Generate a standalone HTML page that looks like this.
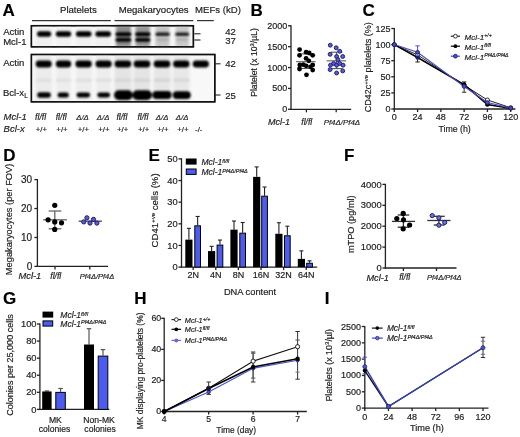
<!DOCTYPE html><html><head><meta charset="utf-8"><style>html,body{margin:0;padding:0;background:#fff;}svg{display:block;will-change:transform;}</style></head><body>
<svg width="520" height="437" viewBox="0 0 520 437" font-family='"Liberation Sans", sans-serif'><style>text{stroke:#1c1c1c;stroke-width:0.18px;paint-order:stroke;}</style>
<defs><filter id="bl" x="-30%" y="-60%" width="160%" height="220%"><feGaussianBlur stdDeviation="0.95"/></filter><filter id="bl2" x="-30%" y="-60%" width="160%" height="220%"><feGaussianBlur stdDeviation="1.6"/></filter></defs>
<rect width="520" height="437" fill="#fff"/>
<text x="2.60" y="16.20" font-size="17" text-anchor="start" fill="#000" font-weight="bold" >A</text>
<text x="60.00" y="12.70" font-size="9.6" text-anchor="start" fill="#1c1c1c" >Platelets</text>
<text x="118.70" y="12.70" font-size="9.6" text-anchor="start" fill="#1c1c1c" >Megakaryocytes</text>
<text x="195.00" y="12.70" font-size="9.6" text-anchor="start" fill="#1c1c1c" >MEFs (kD)</text>
<line x1="32.00" y1="20.60" x2="110.80" y2="20.60" stroke="#333" stroke-width="1.2"/>
<line x1="114.50" y1="20.60" x2="193.30" y2="20.60" stroke="#333" stroke-width="1.2"/>
<line x1="197.00" y1="20.60" x2="213.80" y2="20.60" stroke="#333" stroke-width="1.2"/>
<rect x="31.4" y="25.7" width="162" height="21.1" fill="#f8f8f8" stroke="#111" stroke-width="1.3"/>
<rect x="31.4" y="54.5" width="183.4" height="47.3" fill="#f8f8f8" stroke="#111" stroke-width="1.3"/>
<g filter="url(#bl2)">
<rect x="36" y="25.5" width="16" height="21.5" fill="#f0f0f0"/>
<rect x="56" y="25.5" width="15" height="21.5" fill="#f1f1f1"/>
<rect x="76" y="25.5" width="16" height="21.5" fill="#f1f1f1"/>
<rect x="95" y="25.5" width="16" height="21.5" fill="#f1f1f1"/>
<rect x="116" y="25.5" width="15" height="21.5" fill="#8a8a8a"/>
<rect x="135.5" y="25.5" width="14.5" height="21.5" fill="#959595"/>
<rect x="155.5" y="25.5" width="14.0" height="21.5" fill="#c4c4c4"/>
<rect x="175.5" y="25.5" width="13.5" height="21.5" fill="#c8c8c8"/>
<rect x="35.5" y="54.5" width="16.5" height="47" fill="#ececec"/>
<rect x="56" y="54.5" width="15" height="47" fill="#ededed"/>
<rect x="76" y="54.5" width="16" height="47" fill="#ededed"/>
<rect x="96" y="54.5" width="15" height="47" fill="#ededed"/>
<rect x="114.5" y="54.5" width="17.0" height="47" fill="#e4e4e4"/>
<rect x="133.6" y="54.5" width="16.700000000000017" height="47" fill="#e4e4e4"/>
<rect x="153.8" y="54.5" width="16.69999999999999" height="47" fill="#e6e6e6"/>
<rect x="173" y="54.5" width="16.5" height="47" fill="#e8e8e8"/>
</g>
<g filter="url(#bl)">
<rect x="37.00" y="31.30" width="14.20" height="5.40" rx="2.70" fill="#000" opacity="1"/>
<rect x="55.80" y="31.30" width="15.40" height="5.40" rx="2.70" fill="#000" opacity="1"/>
<rect x="75.90" y="31.30" width="15.60" height="5.40" rx="2.70" fill="#000" opacity="1"/>
<rect x="95.40" y="31.30" width="15.60" height="5.40" rx="2.70" fill="#000" opacity="1"/>
<rect x="115.55" y="32.20" width="15.70" height="4.00" rx="2.00" fill="#000" opacity="1"/>
<rect x="115.55" y="37.90" width="15.70" height="3.80" rx="1.90" fill="#000" opacity="1"/>
<rect x="135.25" y="32.20" width="15.10" height="4.00" rx="2.00" fill="#000" opacity="1"/>
<rect x="135.25" y="37.90" width="15.10" height="3.80" rx="1.90" fill="#000" opacity="1"/>
<rect x="155.50" y="32.40" width="14.20" height="3.60" rx="1.80" fill="#1a1a1a" opacity="1"/>
<rect x="156.50" y="38.50" width="12.20" height="2.20" rx="1.10" fill="#aaaaaa" opacity="1"/>
<rect x="175.30" y="32.40" width="13.80" height="3.60" rx="1.80" fill="#202020" opacity="1"/>
<rect x="176.30" y="38.50" width="11.80" height="2.20" rx="1.10" fill="#aaaaaa" opacity="1"/>
<rect x="35.70" y="60.60" width="16.00" height="6.80" rx="3.40" fill="#000" opacity="1"/>
<rect x="55.80" y="60.60" width="15.40" height="6.80" rx="3.40" fill="#000" opacity="1"/>
<rect x="75.40" y="60.60" width="16.40" height="6.80" rx="3.40" fill="#000" opacity="1"/>
<rect x="95.50" y="60.60" width="16.20" height="6.80" rx="3.40" fill="#000" opacity="1"/>
<rect x="114.60" y="60.60" width="16.60" height="6.80" rx="3.40" fill="#000" opacity="1"/>
<rect x="133.70" y="60.60" width="16.60" height="6.80" rx="3.40" fill="#000" opacity="1"/>
<rect x="153.70" y="60.60" width="16.60" height="6.80" rx="3.40" fill="#000" opacity="1"/>
<rect x="173.10" y="60.60" width="16.40" height="6.80" rx="3.40" fill="#000" opacity="1"/>
<rect x="192.70" y="60.60" width="16.20" height="6.80" rx="3.40" fill="#000" opacity="1"/>
<rect x="35.70" y="78.50" width="16.00" height="3.40" rx="1.70" fill="#e0e0e0" opacity="1"/>
<rect x="55.80" y="78.50" width="15.40" height="3.40" rx="1.70" fill="#e0e0e0" opacity="1"/>
<rect x="75.40" y="78.50" width="16.40" height="3.40" rx="1.70" fill="#e0e0e0" opacity="1"/>
<rect x="95.50" y="78.50" width="16.20" height="3.40" rx="1.70" fill="#e0e0e0" opacity="1"/>
<rect x="114.60" y="78.50" width="16.60" height="3.40" rx="1.70" fill="#d8d8d8" opacity="1"/>
<rect x="133.70" y="78.50" width="16.60" height="3.40" rx="1.70" fill="#d6d6d6" opacity="1"/>
<rect x="153.70" y="78.50" width="16.60" height="3.40" rx="1.70" fill="#d6d6d6" opacity="1"/>
<rect x="173.10" y="78.50" width="16.40" height="3.40" rx="1.70" fill="#d8d8d8" opacity="1"/>
<rect x="37.20" y="92.20" width="13.60" height="5.60" rx="2.80" fill="#000" opacity="1"/>
<rect x="57.60" y="92.50" width="11.20" height="5.00" rx="2.50" fill="#000" opacity="1"/>
<rect x="76.50" y="92.60" width="13.60" height="4.80" rx="2.40" fill="#000" opacity="1"/>
<rect x="97.30" y="92.60" width="12.80" height="4.80" rx="2.40" fill="#000" opacity="1"/>
<rect x="114.00" y="90.30" width="18.80" height="9.60" rx="4.80" fill="#000" opacity="1"/>
<rect x="132.40" y="90.20" width="19.60" height="9.80" rx="4.90" fill="#000" opacity="1"/>
<rect x="152.40" y="91.10" width="19.20" height="8.00" rx="4.00" fill="#000" opacity="1"/>
<rect x="172.80" y="91.20" width="18.00" height="7.80" rx="3.90" fill="#000" opacity="1"/>
</g>
<rect x="31.4" y="25.7" width="162" height="21.1" fill="none" stroke="#111" stroke-width="1.5"/>
<rect x="31.4" y="54.5" width="183.4" height="47.3" fill="none" stroke="#111" stroke-width="1.5"/>
<line x1="194.30" y1="33.80" x2="200.50" y2="33.80" stroke="#222" stroke-width="1.1"/>
<line x1="194.30" y1="40.00" x2="200.50" y2="40.00" stroke="#222" stroke-width="1.1"/>
<line x1="215.00" y1="63.80" x2="220.50" y2="63.80" stroke="#222" stroke-width="1.1"/>
<line x1="215.00" y1="95.00" x2="220.50" y2="95.00" stroke="#222" stroke-width="1.1"/>
<text x="225.30" y="35.00" font-size="9.5" text-anchor="start" fill="#1c1c1c" >42</text>
<text x="225.30" y="43.90" font-size="9.5" text-anchor="start" fill="#1c1c1c" >37</text>
<text x="225.30" y="67.30" font-size="9.5" text-anchor="start" fill="#1c1c1c" >42</text>
<text x="225.30" y="98.60" font-size="9.5" text-anchor="start" fill="#1c1c1c" >25</text>
<text x="3.20" y="34.90" font-size="9.5" text-anchor="start" fill="#1c1c1c" >Actin</text>
<text x="3.20" y="44.90" font-size="9.5" text-anchor="start" fill="#1c1c1c" >Mcl-1</text>
<text x="3.20" y="66.30" font-size="9.5" text-anchor="start" fill="#1c1c1c" >Actin</text>
<text x="3.00" y="96.20" font-size="9.5" text-anchor="start" fill="#1c1c1c" >Bcl-x<tspan font-size="6.5" dy="2">L</tspan></text>
<text x="3.60" y="120.20" font-size="9.5" text-anchor="start" fill="#1c1c1c" font-style="italic" >Mcl-1</text>
<text x="3.60" y="132.20" font-size="9.5" text-anchor="start" fill="#1c1c1c" font-style="italic" >Bcl-x</text>
<text x="40.60" y="120.20" font-size="8.6" text-anchor="middle" fill="#1c1c1c" font-style="italic" >fl/fl</text>
<text x="61.20" y="120.20" font-size="8.6" text-anchor="middle" fill="#1c1c1c" font-style="italic" >fl/fl</text>
<text x="82.50" y="120.20" font-size="7.8" text-anchor="middle" fill="#1c1c1c" font-style="italic" >Δ/Δ</text>
<text x="103.10" y="120.20" font-size="7.8" text-anchor="middle" fill="#1c1c1c" font-style="italic" >Δ/Δ</text>
<text x="121.90" y="120.20" font-size="8.6" text-anchor="middle" fill="#1c1c1c" font-style="italic" >fl/fl</text>
<text x="142.90" y="120.20" font-size="8.6" text-anchor="middle" fill="#1c1c1c" font-style="italic" >fl/fl</text>
<text x="162.10" y="120.20" font-size="7.8" text-anchor="middle" fill="#1c1c1c" font-style="italic" >Δ/Δ</text>
<text x="182.10" y="120.20" font-size="7.8" text-anchor="middle" fill="#1c1c1c" font-style="italic" >Δ/Δ</text>
<text x="41.40" y="131.90" font-size="7.8" text-anchor="middle" fill="#1c1c1c" >+/+</text>
<text x="62.00" y="131.90" font-size="7.8" text-anchor="middle" fill="#1c1c1c" >+/+</text>
<text x="83.30" y="131.90" font-size="7.8" text-anchor="middle" fill="#1c1c1c" >+/+</text>
<text x="103.90" y="131.90" font-size="7.8" text-anchor="middle" fill="#1c1c1c" >+/+</text>
<text x="122.70" y="131.90" font-size="7.8" text-anchor="middle" fill="#1c1c1c" >+/+</text>
<text x="143.70" y="131.90" font-size="7.8" text-anchor="middle" fill="#1c1c1c" >+/+</text>
<text x="162.90" y="131.90" font-size="7.8" text-anchor="middle" fill="#1c1c1c" >+/+</text>
<text x="182.90" y="131.90" font-size="7.8" text-anchor="middle" fill="#1c1c1c" >+/+</text>
<text x="198.80" y="131.60" font-size="7.8" text-anchor="middle" fill="#1c1c1c" >-/-</text>
<text x="250.50" y="16.20" font-size="17" text-anchor="start" fill="#000" font-weight="bold" >B</text>
<line x1="291.00" y1="25.20" x2="291.00" y2="109.90" stroke="#222" stroke-width="1.3"/>
<line x1="288.00" y1="109.30" x2="291.00" y2="109.30" stroke="#222" stroke-width="1.3"/>
<text x="287.20" y="112.30" font-size="9" text-anchor="end" fill="#1c1c1c" >0</text>
<line x1="288.00" y1="88.42" x2="291.00" y2="88.42" stroke="#222" stroke-width="1.3"/>
<text x="287.20" y="91.42" font-size="9" text-anchor="end" fill="#1c1c1c" >500</text>
<line x1="288.00" y1="67.55" x2="291.00" y2="67.55" stroke="#222" stroke-width="1.3"/>
<text x="287.20" y="70.55" font-size="9" text-anchor="end" fill="#1c1c1c" >1000</text>
<line x1="288.00" y1="46.67" x2="291.00" y2="46.67" stroke="#222" stroke-width="1.3"/>
<text x="287.20" y="49.67" font-size="9" text-anchor="end" fill="#1c1c1c" >1500</text>
<line x1="288.00" y1="25.80" x2="291.00" y2="25.80" stroke="#222" stroke-width="1.3"/>
<text x="287.20" y="28.80" font-size="9" text-anchor="end" fill="#1c1c1c" >2000</text>
<line x1="290.40" y1="109.30" x2="351.20" y2="109.30" stroke="#222" stroke-width="1.3"/>
<line x1="306.40" y1="109.30" x2="306.40" y2="112.30" stroke="#222" stroke-width="1.3"/>
<line x1="336.20" y1="109.30" x2="336.20" y2="112.30" stroke="#222" stroke-width="1.3"/>
<text transform="translate(256.80,62.50) rotate(-90)" x="0" y="0" font-size="8.65" text-anchor="middle" fill="#1c1c1c">Platelet (x 10<tspan font-size="5.8" dy="-3">3</tspan><tspan dy="3">/µL)</tspan></text>
<text x="268.00" y="125.30" font-size="9" text-anchor="start" fill="#1c1c1c" font-style="italic" >Mcl-1</text>
<text x="306.80" y="125.10" font-size="8.6" text-anchor="middle" fill="#1c1c1c" font-style="italic" >fl/fl</text>
<text x="341.90" y="125.10" font-size="7.9" text-anchor="middle" fill="#1c1c1c" font-style="italic" >Pf4Δ/Pf4Δ</text>
<line x1="296.00" y1="61.60" x2="315.60" y2="61.60" stroke="#777" stroke-width="1.3"/>
<line x1="299.50" y1="53.90" x2="312.50" y2="53.90" stroke="#555" stroke-width="1.1"/>
<line x1="299.50" y1="68.40" x2="312.50" y2="68.40" stroke="#555" stroke-width="1.1"/>
<circle cx="299.60" cy="49.60" r="2.4" fill="#000" stroke="none" stroke-width="0.8"/>
<circle cx="306.10" cy="52.20" r="2.4" fill="#000" stroke="none" stroke-width="0.8"/>
<circle cx="309.20" cy="53.00" r="2.4" fill="#000" stroke="none" stroke-width="0.8"/>
<circle cx="312.70" cy="55.30" r="2.4" fill="#000" stroke="none" stroke-width="0.8"/>
<circle cx="299.50" cy="55.30" r="2.4" fill="#000" stroke="none" stroke-width="0.8"/>
<circle cx="306.10" cy="58.40" r="2.4" fill="#000" stroke="none" stroke-width="0.8"/>
<circle cx="308.80" cy="60.80" r="2.4" fill="#000" stroke="none" stroke-width="0.8"/>
<circle cx="299.80" cy="65.00" r="2.4" fill="#000" stroke="none" stroke-width="0.8"/>
<circle cx="303.40" cy="64.70" r="2.4" fill="#000" stroke="none" stroke-width="0.8"/>
<circle cx="306.10" cy="65.80" r="2.4" fill="#000" stroke="none" stroke-width="0.8"/>
<circle cx="312.70" cy="65.00" r="2.4" fill="#000" stroke="none" stroke-width="0.8"/>
<circle cx="299.50" cy="69.00" r="2.4" fill="#000" stroke="none" stroke-width="0.8"/>
<circle cx="312.70" cy="70.10" r="2.4" fill="#000" stroke="none" stroke-width="0.8"/>
<circle cx="306.50" cy="74.80" r="2.4" fill="#000" stroke="none" stroke-width="0.8"/>
<circle cx="310.50" cy="66.80" r="2.4" fill="#000" stroke="none" stroke-width="0.8"/>
<line x1="330.60" y1="52.20" x2="342.40" y2="52.20" stroke="#555" stroke-width="1.1"/>
<line x1="330.60" y1="68.60" x2="342.40" y2="68.60" stroke="#555" stroke-width="1.1"/>
<line x1="336.50" y1="52.20" x2="336.50" y2="68.60" stroke="#555" stroke-width="1.1"/>
<line x1="326.60" y1="60.80" x2="346.20" y2="60.80" stroke="#777" stroke-width="1.3"/>
<circle cx="330.30" cy="45.20" r="1.95" fill="#5c5cd4" stroke="#1c1c6a" stroke-width="0.95"/>
<circle cx="336.20" cy="47.80" r="1.95" fill="#5c5cd4" stroke="#1c1c6a" stroke-width="0.95"/>
<circle cx="339.70" cy="51.30" r="1.95" fill="#5c5cd4" stroke="#1c1c6a" stroke-width="0.95"/>
<circle cx="330.10" cy="54.30" r="1.95" fill="#5c5cd4" stroke="#1c1c6a" stroke-width="0.95"/>
<circle cx="336.60" cy="56.50" r="1.95" fill="#5c5cd4" stroke="#1c1c6a" stroke-width="0.95"/>
<circle cx="342.70" cy="56.50" r="1.95" fill="#5c5cd4" stroke="#1c1c6a" stroke-width="0.95"/>
<circle cx="337.90" cy="59.60" r="1.95" fill="#5c5cd4" stroke="#1c1c6a" stroke-width="0.95"/>
<circle cx="330.50" cy="65.20" r="1.95" fill="#5c5cd4" stroke="#1c1c6a" stroke-width="0.95"/>
<circle cx="333.60" cy="63.50" r="1.95" fill="#5c5cd4" stroke="#1c1c6a" stroke-width="0.95"/>
<circle cx="336.60" cy="65.20" r="1.95" fill="#5c5cd4" stroke="#1c1c6a" stroke-width="0.95"/>
<circle cx="339.70" cy="63.50" r="1.95" fill="#5c5cd4" stroke="#1c1c6a" stroke-width="0.95"/>
<circle cx="343.10" cy="65.20" r="1.95" fill="#5c5cd4" stroke="#1c1c6a" stroke-width="0.95"/>
<circle cx="330.10" cy="69.60" r="1.95" fill="#5c5cd4" stroke="#1c1c6a" stroke-width="0.95"/>
<circle cx="342.70" cy="70.90" r="1.95" fill="#5c5cd4" stroke="#1c1c6a" stroke-width="0.95"/>
<circle cx="336.60" cy="73.00" r="1.95" fill="#5c5cd4" stroke="#1c1c6a" stroke-width="0.95"/>
<text x="362.50" y="15.60" font-size="17" text-anchor="start" fill="#000" font-weight="bold" >C</text>
<line x1="394.30" y1="27.90" x2="394.30" y2="109.60" stroke="#222" stroke-width="1.3"/>
<line x1="391.30" y1="109.00" x2="394.30" y2="109.00" stroke="#222" stroke-width="1.3"/>
<text x="390.50" y="112.00" font-size="9" text-anchor="end" fill="#1c1c1c" >0</text>
<line x1="391.30" y1="92.90" x2="394.30" y2="92.90" stroke="#222" stroke-width="1.3"/>
<text x="390.50" y="95.90" font-size="9" text-anchor="end" fill="#1c1c1c" >25</text>
<line x1="391.30" y1="76.80" x2="394.30" y2="76.80" stroke="#222" stroke-width="1.3"/>
<text x="390.50" y="79.80" font-size="9" text-anchor="end" fill="#1c1c1c" >50</text>
<line x1="391.30" y1="60.70" x2="394.30" y2="60.70" stroke="#222" stroke-width="1.3"/>
<text x="390.50" y="63.70" font-size="9" text-anchor="end" fill="#1c1c1c" >75</text>
<line x1="391.30" y1="44.60" x2="394.30" y2="44.60" stroke="#222" stroke-width="1.3"/>
<text x="390.50" y="47.60" font-size="9" text-anchor="end" fill="#1c1c1c" >100</text>
<line x1="391.30" y1="28.50" x2="394.30" y2="28.50" stroke="#222" stroke-width="1.3"/>
<text x="390.50" y="31.50" font-size="9" text-anchor="end" fill="#1c1c1c" >125</text>
<line x1="393.70" y1="109.00" x2="515.40" y2="109.00" stroke="#222" stroke-width="1.3"/>
<line x1="394.30" y1="109.00" x2="394.30" y2="112.00" stroke="#222" stroke-width="1.3"/>
<line x1="417.58" y1="109.00" x2="417.58" y2="112.00" stroke="#222" stroke-width="1.3"/>
<line x1="440.86" y1="109.00" x2="440.86" y2="112.00" stroke="#222" stroke-width="1.3"/>
<line x1="464.14" y1="109.00" x2="464.14" y2="112.00" stroke="#222" stroke-width="1.3"/>
<line x1="487.42" y1="109.00" x2="487.42" y2="112.00" stroke="#222" stroke-width="1.3"/>
<line x1="510.70" y1="109.00" x2="510.70" y2="112.00" stroke="#222" stroke-width="1.3"/>
<text x="394.30" y="120.00" font-size="9" text-anchor="middle" fill="#1c1c1c" >0</text>
<text x="417.58" y="120.00" font-size="9" text-anchor="middle" fill="#1c1c1c" >24</text>
<text x="440.86" y="120.00" font-size="9" text-anchor="middle" fill="#1c1c1c" >48</text>
<text x="464.14" y="120.00" font-size="9" text-anchor="middle" fill="#1c1c1c" >72</text>
<text x="487.42" y="120.00" font-size="9" text-anchor="middle" fill="#1c1c1c" >96</text>
<text x="510.70" y="120.00" font-size="9" text-anchor="middle" fill="#1c1c1c" >120</text>
<text x="454.60" y="131.80" font-size="8.8" text-anchor="middle" fill="#1c1c1c" >Time (h)</text>
<text transform="translate(371.30,67.30) rotate(-90)" x="0" y="0" font-size="9" text-anchor="middle" fill="#1c1c1c">CD42c<tspan font-size="6" dy="-3">+ve</tspan><tspan dy="3"> platelets (%)</tspan></text>
<line x1="417.58" y1="45.89" x2="417.58" y2="52.33" stroke="#4a55c8" stroke-width="1.0"/>
<line x1="415.38" y1="45.89" x2="419.78" y2="45.89" stroke="#4a55c8" stroke-width="1.0"/>
<line x1="415.38" y1="52.33" x2="419.78" y2="52.33" stroke="#4a55c8" stroke-width="1.0"/>
<line x1="417.58" y1="57.48" x2="417.58" y2="61.99" stroke="#222" stroke-width="1.0"/>
<line x1="415.38" y1="57.48" x2="419.78" y2="57.48" stroke="#222" stroke-width="1.0"/>
<line x1="415.38" y1="61.99" x2="419.78" y2="61.99" stroke="#222" stroke-width="1.0"/>
<line x1="464.14" y1="81.95" x2="464.14" y2="85.82" stroke="#222" stroke-width="1.0"/>
<line x1="461.94" y1="81.95" x2="466.34" y2="81.95" stroke="#222" stroke-width="1.0"/>
<line x1="461.94" y1="85.82" x2="466.34" y2="85.82" stroke="#222" stroke-width="1.0"/>
<line x1="464.14" y1="86.46" x2="464.14" y2="92.26" stroke="#333" stroke-width="1.0"/>
<line x1="461.94" y1="86.46" x2="466.34" y2="86.46" stroke="#333" stroke-width="1.0"/>
<line x1="461.94" y1="92.26" x2="466.34" y2="92.26" stroke="#333" stroke-width="1.0"/>
<line x1="487.42" y1="99.98" x2="487.42" y2="105.14" stroke="#333" stroke-width="1.0"/>
<line x1="485.22" y1="99.98" x2="489.62" y2="99.98" stroke="#333" stroke-width="1.0"/>
<line x1="485.22" y1="105.14" x2="489.62" y2="105.14" stroke="#333" stroke-width="1.0"/>
<polyline points="394.30,44.60 417.58,54.90 464.14,85.17 487.42,99.98 510.70,107.71" fill="none" stroke="#222" stroke-width="1.0"/>
<polyline points="394.30,44.60 417.58,57.48 464.14,84.53 487.42,104.49 510.70,108.36" fill="none" stroke="#000" stroke-width="1.6"/>
<polyline points="394.30,44.60 417.58,52.33 464.14,86.46 487.42,102.56 510.70,108.03" fill="none" stroke="#4a4ccc" stroke-width="1.1"/>
<circle cx="394.30" cy="44.60" r="2.0" fill="#fff" stroke="#222" stroke-width="0.9"/>
<circle cx="417.58" cy="54.90" r="2.0" fill="#fff" stroke="#222" stroke-width="0.9"/>
<circle cx="464.14" cy="85.17" r="2.0" fill="#fff" stroke="#222" stroke-width="0.9"/>
<circle cx="487.42" cy="99.98" r="2.0" fill="#fff" stroke="#222" stroke-width="0.9"/>
<circle cx="510.70" cy="107.71" r="2.0" fill="#fff" stroke="#222" stroke-width="0.9"/>
<circle cx="394.30" cy="44.60" r="2.2" fill="#000" stroke="none" stroke-width="0.8"/>
<circle cx="417.58" cy="57.48" r="2.2" fill="#1e1e72" stroke="none" stroke-width="0.8"/>
<circle cx="464.14" cy="84.53" r="2.2" fill="#000" stroke="none" stroke-width="0.8"/>
<circle cx="487.42" cy="104.49" r="2.2" fill="#000" stroke="none" stroke-width="0.8"/>
<circle cx="510.70" cy="108.36" r="2.2" fill="#000" stroke="none" stroke-width="0.8"/>
<circle cx="394.30" cy="44.60" r="1.9" fill="#4c4cc8" stroke="#20207a" stroke-width="0.9"/>
<circle cx="417.58" cy="52.33" r="1.9" fill="#4c4cc8" stroke="#20207a" stroke-width="0.9"/>
<circle cx="464.14" cy="86.46" r="1.9" fill="#4c4cc8" stroke="#20207a" stroke-width="0.9"/>
<circle cx="487.42" cy="102.56" r="1.9" fill="#4c4cc8" stroke="#20207a" stroke-width="0.9"/>
<circle cx="510.70" cy="108.03" r="1.9" fill="#4c4cc8" stroke="#20207a" stroke-width="0.9"/>
<line x1="450.80" y1="36.20" x2="460.00" y2="36.20" stroke="#222" stroke-width="1.2"/>
<circle cx="455.40" cy="36.20" r="1.9" fill="#fff" stroke="#222" stroke-width="0.9"/>
<line x1="450.80" y1="46.20" x2="460.00" y2="46.20" stroke="#000" stroke-width="1.2"/>
<circle cx="455.40" cy="46.20" r="1.9" fill="#000" stroke="none" stroke-width="0.9"/>
<line x1="450.80" y1="56.20" x2="460.00" y2="56.20" stroke="#4a4ccc" stroke-width="1.2"/>
<circle cx="455.40" cy="56.20" r="1.9" fill="#4c4cc8" stroke="#20207a" stroke-width="0.9"/>
<text x="464.60" y="39.60" font-size="8" text-anchor="start" fill="#1c1c1c" font-style="italic" >Mcl-1<tspan font-size="5.3" dy="-2.3">+/+</tspan></text>
<text x="464.60" y="49.60" font-size="8" text-anchor="start" fill="#1c1c1c" font-style="italic" >Mcl-1<tspan font-size="5.3" dy="-2.3">fl/fl</tspan></text>
<text x="464.60" y="59.60" font-size="8" text-anchor="start" fill="#1c1c1c" font-style="italic" >Mcl-1<tspan font-size="5.3" dy="-2.3">Pf4Δ/Pf4Δ</tspan></text>
<text x="3.20" y="160.60" font-size="17" text-anchor="start" fill="#000" font-weight="bold" >D</text>
<line x1="37.40" y1="179.00" x2="37.40" y2="267.00" stroke="#222" stroke-width="1.3"/>
<line x1="34.40" y1="266.40" x2="37.40" y2="266.40" stroke="#222" stroke-width="1.3"/>
<text x="32.20" y="269.73" font-size="10" text-anchor="end" fill="#1c1c1c" >0</text>
<line x1="34.40" y1="237.47" x2="37.40" y2="237.47" stroke="#222" stroke-width="1.3"/>
<text x="32.20" y="240.80" font-size="10" text-anchor="end" fill="#1c1c1c" >10</text>
<line x1="34.40" y1="208.53" x2="37.40" y2="208.53" stroke="#222" stroke-width="1.3"/>
<text x="32.20" y="211.87" font-size="10" text-anchor="end" fill="#1c1c1c" >20</text>
<line x1="34.40" y1="179.60" x2="37.40" y2="179.60" stroke="#222" stroke-width="1.3"/>
<text x="32.20" y="182.93" font-size="10" text-anchor="end" fill="#1c1c1c" >30</text>
<line x1="36.80" y1="266.40" x2="108.00" y2="266.40" stroke="#222" stroke-width="1.3"/>
<line x1="55.00" y1="266.40" x2="55.00" y2="269.40" stroke="#222" stroke-width="1.3"/>
<line x1="89.80" y1="266.40" x2="89.80" y2="269.40" stroke="#222" stroke-width="1.3"/>
<text transform="translate(11.50,219.40) rotate(-90)" x="0" y="0" font-size="9.3" text-anchor="middle" fill="#1c1c1c">Megakaryocytes (per FOV)</text>
<text x="18.50" y="279.00" font-size="9.3" text-anchor="start" fill="#1c1c1c" font-style="italic" >Mcl-1</text>
<text x="55.80" y="278.80" font-size="8.6" text-anchor="middle" fill="#1c1c1c" font-style="italic" >fl/fl</text>
<text x="97.00" y="278.80" font-size="7.5" text-anchor="middle" fill="#1c1c1c" font-style="italic" >Pf4Δ/Pf4Δ</text>
<line x1="43.10" y1="219.80" x2="66.90" y2="219.80" stroke="#666" stroke-width="1.3"/>
<line x1="48.70" y1="211.00" x2="61.30" y2="211.00" stroke="#666" stroke-width="1.3"/>
<line x1="48.70" y1="228.80" x2="61.30" y2="228.80" stroke="#666" stroke-width="1.3"/>
<line x1="54.80" y1="211.00" x2="54.80" y2="228.80" stroke="#666" stroke-width="1.3"/>
<circle cx="54.75" cy="205.30" r="2.6" fill="#000" stroke="none" stroke-width="0.8"/>
<circle cx="48.10" cy="219.80" r="2.6" fill="#000" stroke="none" stroke-width="0.8"/>
<circle cx="54.75" cy="221.90" r="2.6" fill="#000" stroke="none" stroke-width="0.8"/>
<circle cx="61.50" cy="222.80" r="2.6" fill="#000" stroke="none" stroke-width="0.8"/>
<circle cx="54.75" cy="229.40" r="2.6" fill="#000" stroke="none" stroke-width="0.8"/>
<line x1="78.70" y1="221.20" x2="101.90" y2="221.20" stroke="#444" stroke-width="1.3"/>
<circle cx="83.75" cy="221.90" r="2.1" fill="#5c5cd4" stroke="#1c1c6a" stroke-width="1.0"/>
<circle cx="86.90" cy="217.80" r="2.1" fill="#5c5cd4" stroke="#1c1c6a" stroke-width="1.0"/>
<circle cx="90.00" cy="223.10" r="2.1" fill="#5c5cd4" stroke="#1c1c6a" stroke-width="1.0"/>
<circle cx="93.50" cy="219.40" r="2.1" fill="#5c5cd4" stroke="#1c1c6a" stroke-width="1.0"/>
<circle cx="96.90" cy="223.10" r="2.1" fill="#5c5cd4" stroke="#1c1c6a" stroke-width="1.0"/>
<text x="148.60" y="160.50" font-size="17" text-anchor="start" fill="#000" font-weight="bold" >E</text>
<line x1="181.50" y1="158.30" x2="181.50" y2="267.70" stroke="#222" stroke-width="1.3"/>
<line x1="178.50" y1="267.10" x2="181.50" y2="267.10" stroke="#222" stroke-width="1.3"/>
<text x="177.70" y="270.20" font-size="9.3" text-anchor="end" fill="#1c1c1c" >0</text>
<line x1="178.50" y1="245.46" x2="181.50" y2="245.46" stroke="#222" stroke-width="1.3"/>
<text x="177.70" y="248.56" font-size="9.3" text-anchor="end" fill="#1c1c1c" >10</text>
<line x1="178.50" y1="223.82" x2="181.50" y2="223.82" stroke="#222" stroke-width="1.3"/>
<text x="177.70" y="226.92" font-size="9.3" text-anchor="end" fill="#1c1c1c" >20</text>
<line x1="178.50" y1="202.18" x2="181.50" y2="202.18" stroke="#222" stroke-width="1.3"/>
<text x="177.70" y="205.28" font-size="9.3" text-anchor="end" fill="#1c1c1c" >30</text>
<line x1="178.50" y1="180.54" x2="181.50" y2="180.54" stroke="#222" stroke-width="1.3"/>
<text x="177.70" y="183.64" font-size="9.3" text-anchor="end" fill="#1c1c1c" >40</text>
<line x1="178.50" y1="158.90" x2="181.50" y2="158.90" stroke="#222" stroke-width="1.3"/>
<text x="177.70" y="162.00" font-size="9.3" text-anchor="end" fill="#1c1c1c" >50</text>
<line x1="180.90" y1="267.10" x2="317.20" y2="267.10" stroke="#222" stroke-width="1.3"/>
<line x1="193.20" y1="267.10" x2="193.20" y2="270.10" stroke="#222" stroke-width="1.3"/>
<line x1="215.80" y1="267.10" x2="215.80" y2="270.10" stroke="#222" stroke-width="1.3"/>
<line x1="238.40" y1="267.10" x2="238.40" y2="270.10" stroke="#222" stroke-width="1.3"/>
<line x1="261.00" y1="267.10" x2="261.00" y2="270.10" stroke="#222" stroke-width="1.3"/>
<line x1="283.60" y1="267.10" x2="283.60" y2="270.10" stroke="#222" stroke-width="1.3"/>
<line x1="306.20" y1="267.10" x2="306.20" y2="270.10" stroke="#222" stroke-width="1.3"/>
<text x="193.20" y="278.00" font-size="9" text-anchor="middle" fill="#1c1c1c" >2N</text>
<text x="215.80" y="278.00" font-size="9" text-anchor="middle" fill="#1c1c1c" >4N</text>
<text x="238.40" y="278.00" font-size="9" text-anchor="middle" fill="#1c1c1c" >8N</text>
<text x="261.00" y="278.00" font-size="9" text-anchor="middle" fill="#1c1c1c" >16N</text>
<text x="283.60" y="278.00" font-size="9" text-anchor="middle" fill="#1c1c1c" >32N</text>
<text x="306.20" y="278.00" font-size="9" text-anchor="middle" fill="#1c1c1c" >64N</text>
<text x="250.00" y="295.00" font-size="9.3" text-anchor="middle" fill="#1c1c1c" >DNA content</text>
<text transform="translate(157.70,210.40) rotate(-90)" x="0" y="0" font-size="9.6" text-anchor="middle" fill="#1c1c1c">CD41<tspan font-size="6.1" dy="-3">+ve</tspan><tspan dy="3"> cells (%)</tspan></text>
<line x1="188.90" y1="228.36" x2="188.90" y2="239.62" stroke="#222" stroke-width="1.1"/>
<line x1="186.90" y1="228.36" x2="190.90" y2="228.36" stroke="#222" stroke-width="1.1"/>
<rect x="185.30" y="239.62" width="7.2" height="27.48" fill="#000"/>
<line x1="197.65" y1="216.46" x2="197.65" y2="225.33" stroke="#222" stroke-width="1.1"/>
<line x1="195.65" y1="216.46" x2="199.65" y2="216.46" stroke="#222" stroke-width="1.1"/>
<rect x="194.80" y="225.83" width="5.7" height="41.27" fill="#4c5cf0" stroke="#000" stroke-width="1"/>
<line x1="211.60" y1="246.33" x2="211.60" y2="251.09" stroke="#222" stroke-width="1.1"/>
<line x1="209.60" y1="246.33" x2="213.60" y2="246.33" stroke="#222" stroke-width="1.1"/>
<rect x="208.00" y="251.09" width="7.2" height="16.01" fill="#000"/>
<line x1="219.95" y1="240.05" x2="219.95" y2="244.59" stroke="#222" stroke-width="1.1"/>
<line x1="217.95" y1="240.05" x2="221.95" y2="240.05" stroke="#222" stroke-width="1.1"/>
<rect x="217.10" y="245.09" width="5.7" height="22.01" fill="#4c5cf0" stroke="#000" stroke-width="1"/>
<line x1="234.00" y1="221.01" x2="234.00" y2="229.66" stroke="#222" stroke-width="1.1"/>
<line x1="232.00" y1="221.01" x2="236.00" y2="221.01" stroke="#222" stroke-width="1.1"/>
<rect x="230.40" y="229.66" width="7.2" height="37.44" fill="#000"/>
<line x1="242.65" y1="222.52" x2="242.65" y2="232.69" stroke="#222" stroke-width="1.1"/>
<line x1="240.65" y1="222.52" x2="244.65" y2="222.52" stroke="#222" stroke-width="1.1"/>
<rect x="239.80" y="233.19" width="5.7" height="33.91" fill="#4c5cf0" stroke="#000" stroke-width="1"/>
<line x1="256.70" y1="166.91" x2="256.70" y2="176.86" stroke="#222" stroke-width="1.1"/>
<line x1="254.70" y1="166.91" x2="258.70" y2="166.91" stroke="#222" stroke-width="1.1"/>
<rect x="253.10" y="176.86" width="7.2" height="90.24" fill="#000"/>
<line x1="264.55" y1="187.03" x2="264.55" y2="195.69" stroke="#222" stroke-width="1.1"/>
<line x1="262.55" y1="187.03" x2="266.55" y2="187.03" stroke="#222" stroke-width="1.1"/>
<rect x="261.70" y="196.19" width="5.7" height="70.91" fill="#4c5cf0" stroke="#000" stroke-width="1"/>
<line x1="278.90" y1="222.74" x2="278.90" y2="233.77" stroke="#222" stroke-width="1.1"/>
<line x1="276.90" y1="222.74" x2="280.90" y2="222.74" stroke="#222" stroke-width="1.1"/>
<rect x="275.30" y="233.77" width="7.2" height="33.33" fill="#000"/>
<line x1="287.35" y1="226.20" x2="287.35" y2="235.29" stroke="#222" stroke-width="1.1"/>
<line x1="285.35" y1="226.20" x2="289.35" y2="226.20" stroke="#222" stroke-width="1.1"/>
<rect x="284.50" y="235.79" width="5.7" height="31.31" fill="#4c5cf0" stroke="#000" stroke-width="1"/>
<line x1="301.40" y1="250.87" x2="301.40" y2="258.88" stroke="#222" stroke-width="1.1"/>
<line x1="299.40" y1="250.87" x2="303.40" y2="250.87" stroke="#222" stroke-width="1.1"/>
<rect x="297.80" y="258.88" width="7.2" height="8.22" fill="#000"/>
<line x1="309.55" y1="260.82" x2="309.55" y2="262.77" stroke="#222" stroke-width="1.1"/>
<line x1="307.55" y1="260.82" x2="311.55" y2="260.82" stroke="#222" stroke-width="1.1"/>
<rect x="306.70" y="263.27" width="5.7" height="3.83" fill="#4c5cf0" stroke="#000" stroke-width="1"/>
<rect x="185.8" y="158.5" width="10.8" height="6.1" fill="#000"/>
<rect x="186.3" y="169" width="9.8" height="5.4" fill="#4c5cf0" stroke="#000" stroke-width="1"/>
<text x="201.50" y="164.80" font-size="8.5" text-anchor="start" fill="#1c1c1c" font-style="italic" >Mcl-1<tspan font-size="5.5" dy="-2.3">fl/fl</tspan></text>
<text x="201.50" y="174.80" font-size="8.5" text-anchor="start" fill="#1c1c1c" font-style="italic" >Mcl-1<tspan font-size="5.5" dy="-2.3">Pf4Δ/Pf4Δ</tspan></text>
<text x="344.00" y="160.50" font-size="17" text-anchor="start" fill="#000" font-weight="bold" >F</text>
<line x1="385.40" y1="183.80" x2="385.40" y2="268.60" stroke="#222" stroke-width="1.3"/>
<line x1="382.40" y1="268.00" x2="385.40" y2="268.00" stroke="#222" stroke-width="1.3"/>
<text x="381.60" y="271.13" font-size="9.4" text-anchor="end" fill="#1c1c1c" >0</text>
<line x1="382.40" y1="247.10" x2="385.40" y2="247.10" stroke="#222" stroke-width="1.3"/>
<text x="381.60" y="250.23" font-size="9.4" text-anchor="end" fill="#1c1c1c" >1000</text>
<line x1="382.40" y1="226.20" x2="385.40" y2="226.20" stroke="#222" stroke-width="1.3"/>
<text x="381.60" y="229.33" font-size="9.4" text-anchor="end" fill="#1c1c1c" >2000</text>
<line x1="382.40" y1="205.30" x2="385.40" y2="205.30" stroke="#222" stroke-width="1.3"/>
<text x="381.60" y="208.43" font-size="9.4" text-anchor="end" fill="#1c1c1c" >3000</text>
<line x1="382.40" y1="184.40" x2="385.40" y2="184.40" stroke="#222" stroke-width="1.3"/>
<text x="381.60" y="187.53" font-size="9.4" text-anchor="end" fill="#1c1c1c" >4000</text>
<line x1="384.80" y1="268.00" x2="456.50" y2="268.00" stroke="#222" stroke-width="1.3"/>
<line x1="403.40" y1="268.00" x2="403.40" y2="271.00" stroke="#222" stroke-width="1.3"/>
<line x1="436.50" y1="268.00" x2="436.50" y2="271.00" stroke="#222" stroke-width="1.3"/>
<text transform="translate(354.20,224.20) rotate(-90)" x="0" y="0" font-size="9.2" text-anchor="middle" fill="#1c1c1c">mTPO (pg/ml)</text>
<text x="366.40" y="280.60" font-size="9.2" text-anchor="start" fill="#1c1c1c" font-style="italic" >Mcl-1</text>
<text x="404.70" y="280.40" font-size="8.6" text-anchor="middle" fill="#1c1c1c" font-style="italic" >fl/fl</text>
<text x="444.30" y="280.40" font-size="7.5" text-anchor="middle" fill="#1c1c1c" font-style="italic" >Pf4Δ/Pf4Δ</text>
<line x1="391.90" y1="221.40" x2="415.10" y2="221.40" stroke="#333" stroke-width="1.3"/>
<line x1="397.70" y1="215.00" x2="409.30" y2="215.00" stroke="#333" stroke-width="1.3"/>
<line x1="397.70" y1="227.20" x2="409.30" y2="227.20" stroke="#333" stroke-width="1.3"/>
<line x1="403.40" y1="215.00" x2="403.40" y2="227.20" stroke="#333" stroke-width="1.3"/>
<circle cx="403.20" cy="213.40" r="2.6" fill="#000" stroke="none" stroke-width="0.8"/>
<circle cx="396.80" cy="218.50" r="2.6" fill="#000" stroke="none" stroke-width="0.8"/>
<circle cx="403.50" cy="219.80" r="2.6" fill="#000" stroke="none" stroke-width="0.8"/>
<circle cx="409.60" cy="225.00" r="2.6" fill="#000" stroke="none" stroke-width="0.8"/>
<circle cx="403.20" cy="228.80" r="2.6" fill="#000" stroke="none" stroke-width="0.8"/>
<line x1="427.30" y1="220.50" x2="450.50" y2="220.50" stroke="#333" stroke-width="1.3"/>
<line x1="433.70" y1="216.30" x2="444.70" y2="216.30" stroke="#333" stroke-width="1.3"/>
<line x1="433.70" y1="225.00" x2="444.70" y2="225.00" stroke="#333" stroke-width="1.3"/>
<line x1="438.90" y1="216.30" x2="438.90" y2="225.00" stroke="#333" stroke-width="1.3"/>
<circle cx="432.20" cy="215.60" r="2.1" fill="#7070dc" stroke="#1c1c6a" stroke-width="1.0"/>
<circle cx="438.90" cy="217.90" r="2.1" fill="#7070dc" stroke="#1c1c6a" stroke-width="1.0"/>
<circle cx="444.70" cy="222.40" r="2.1" fill="#7070dc" stroke="#1c1c6a" stroke-width="1.0"/>
<circle cx="438.90" cy="225.20" r="2.1" fill="#7070dc" stroke="#1c1c6a" stroke-width="1.0"/>
<text x="3.00" y="304.40" font-size="17" text-anchor="start" fill="#000" font-weight="bold" >G</text>
<line x1="39.90" y1="323.40" x2="39.90" y2="410.00" stroke="#222" stroke-width="1.3"/>
<line x1="36.90" y1="409.40" x2="39.90" y2="409.40" stroke="#222" stroke-width="1.3"/>
<text x="36.50" y="412.50" font-size="9.3" text-anchor="end" fill="#1c1c1c" >0</text>
<line x1="36.90" y1="392.32" x2="39.90" y2="392.32" stroke="#222" stroke-width="1.3"/>
<text x="36.50" y="395.42" font-size="9.3" text-anchor="end" fill="#1c1c1c" >20</text>
<line x1="36.90" y1="375.24" x2="39.90" y2="375.24" stroke="#222" stroke-width="1.3"/>
<text x="36.50" y="378.34" font-size="9.3" text-anchor="end" fill="#1c1c1c" >40</text>
<line x1="36.90" y1="358.16" x2="39.90" y2="358.16" stroke="#222" stroke-width="1.3"/>
<text x="36.50" y="361.26" font-size="9.3" text-anchor="end" fill="#1c1c1c" >60</text>
<line x1="36.90" y1="341.08" x2="39.90" y2="341.08" stroke="#222" stroke-width="1.3"/>
<text x="36.50" y="344.18" font-size="9.3" text-anchor="end" fill="#1c1c1c" >80</text>
<line x1="36.90" y1="324.00" x2="39.90" y2="324.00" stroke="#222" stroke-width="1.3"/>
<text x="36.50" y="327.10" font-size="9.3" text-anchor="end" fill="#1c1c1c" >100</text>
<line x1="39.30" y1="409.40" x2="109.30" y2="409.40" stroke="#222" stroke-width="1.3"/>
<text transform="translate(12.50,365.00) rotate(-90)" x="0" y="0" font-size="9.05" text-anchor="middle" fill="#1c1c1c">Colonies per 25,000 cells</text>
<line x1="46.90" y1="390.95" x2="46.90" y2="391.47" stroke="#555" stroke-width="1.2"/>
<line x1="44.60" y1="390.95" x2="49.20" y2="390.95" stroke="#555" stroke-width="1.2"/>
<rect x="42.2" y="391.47" width="9.40" height="17.93" fill="#000"/>
<line x1="60.55" y1="388.48" x2="60.55" y2="391.89" stroke="#555" stroke-width="1.2"/>
<line x1="58.25" y1="388.48" x2="62.85" y2="388.48" stroke="#555" stroke-width="1.2"/>
<rect x="55.8" y="392.39" width="9.50" height="17.01" fill="#4c5cf0" stroke="#000" stroke-width="1"/>
<line x1="89.00" y1="328.70" x2="89.00" y2="344.50" stroke="#555" stroke-width="1.2"/>
<line x1="86.70" y1="328.70" x2="91.30" y2="328.70" stroke="#555" stroke-width="1.2"/>
<rect x="84.0" y="344.50" width="10.00" height="64.90" fill="#000"/>
<line x1="103.00" y1="349.62" x2="103.00" y2="355.60" stroke="#555" stroke-width="1.2"/>
<line x1="100.70" y1="349.62" x2="105.30" y2="349.62" stroke="#555" stroke-width="1.2"/>
<rect x="98.2" y="356.10" width="9.60" height="53.30" fill="#4c5cf0" stroke="#000" stroke-width="1"/>
<text x="55.40" y="422.70" font-size="8.6" text-anchor="middle" fill="#1c1c1c" >MK</text>
<text x="54.50" y="432.20" font-size="8.6" text-anchor="middle" fill="#1c1c1c" >colonies</text>
<text x="99.10" y="422.70" font-size="8.6" text-anchor="middle" fill="#1c1c1c" >Non-MK</text>
<text x="100.10" y="432.20" font-size="8.6" text-anchor="middle" fill="#1c1c1c" >colonies</text>
<rect x="42.5" y="311.6" width="10.7" height="6" fill="#000"/>
<rect x="43" y="320.9" width="9.7" height="5.2" fill="#4c5cf0" stroke="#000" stroke-width="1"/>
<text x="60.30" y="318.00" font-size="8.5" text-anchor="start" fill="#1c1c1c" font-style="italic" >Mcl-1<tspan font-size="5.5" dy="-2.3">fl/fl</tspan></text>
<text x="60.30" y="326.60" font-size="8.5" text-anchor="start" fill="#1c1c1c" font-style="italic" >Mcl-1<tspan font-size="5.5" dy="-2.3">Pf4Δ/Pf4Δ</tspan></text>
<text x="134.20" y="304.10" font-size="17" text-anchor="start" fill="#000" font-weight="bold" >H</text>
<line x1="164.20" y1="317.70" x2="164.20" y2="412.10" stroke="#222" stroke-width="1.3"/>
<line x1="161.20" y1="411.50" x2="164.20" y2="411.50" stroke="#222" stroke-width="1.3"/>
<text x="161.20" y="414.43" font-size="8.8" text-anchor="end" fill="#1c1c1c" >0</text>
<line x1="161.20" y1="380.43" x2="164.20" y2="380.43" stroke="#222" stroke-width="1.3"/>
<text x="161.20" y="383.37" font-size="8.8" text-anchor="end" fill="#1c1c1c" >20</text>
<line x1="161.20" y1="349.37" x2="164.20" y2="349.37" stroke="#222" stroke-width="1.3"/>
<text x="161.20" y="352.30" font-size="8.8" text-anchor="end" fill="#1c1c1c" >40</text>
<line x1="161.20" y1="318.30" x2="164.20" y2="318.30" stroke="#222" stroke-width="1.3"/>
<text x="161.20" y="321.23" font-size="8.8" text-anchor="end" fill="#1c1c1c" >60</text>
<line x1="163.60" y1="411.50" x2="306.80" y2="411.50" stroke="#222" stroke-width="1.3"/>
<line x1="164.20" y1="411.50" x2="164.20" y2="414.50" stroke="#222" stroke-width="1.3"/>
<line x1="208.67" y1="411.50" x2="208.67" y2="414.50" stroke="#222" stroke-width="1.3"/>
<line x1="253.13" y1="411.50" x2="253.13" y2="414.50" stroke="#222" stroke-width="1.3"/>
<line x1="297.60" y1="411.50" x2="297.60" y2="414.50" stroke="#222" stroke-width="1.3"/>
<text x="164.20" y="422.00" font-size="8.6" text-anchor="middle" fill="#1c1c1c" >4</text>
<text x="208.67" y="422.00" font-size="8.6" text-anchor="middle" fill="#1c1c1c" >5</text>
<text x="253.13" y="422.00" font-size="8.6" text-anchor="middle" fill="#1c1c1c" >6</text>
<text x="297.60" y="422.00" font-size="8.6" text-anchor="middle" fill="#1c1c1c" >7</text>
<text x="236.20" y="433.40" font-size="8.4" text-anchor="middle" fill="#1c1c1c" >Time (day)</text>
<text transform="translate(142.80,370.90) rotate(-90)" x="0" y="0" font-size="8.45" text-anchor="middle" fill="#1c1c1c">MK displaying pro-platelets (%)</text>
<line x1="208.67" y1="381.99" x2="208.67" y2="394.41" stroke="#333" stroke-width="1.0"/>
<line x1="206.47" y1="381.99" x2="210.87" y2="381.99" stroke="#333" stroke-width="1.0"/>
<line x1="206.47" y1="394.41" x2="210.87" y2="394.41" stroke="#333" stroke-width="1.0"/>
<line x1="253.13" y1="352.01" x2="253.13" y2="381.99" stroke="#333" stroke-width="1.0"/>
<line x1="250.93" y1="352.01" x2="255.33" y2="352.01" stroke="#333" stroke-width="1.0"/>
<line x1="250.93" y1="381.99" x2="255.33" y2="381.99" stroke="#333" stroke-width="1.0"/>
<line x1="253.13" y1="353.25" x2="253.13" y2="378.10" stroke="#555" stroke-width="1.0"/>
<line x1="250.93" y1="353.25" x2="255.33" y2="353.25" stroke="#555" stroke-width="1.0"/>
<line x1="250.93" y1="378.10" x2="255.33" y2="378.10" stroke="#555" stroke-width="1.0"/>
<line x1="297.60" y1="331.50" x2="297.60" y2="379.19" stroke="#333" stroke-width="1.0"/>
<line x1="295.40" y1="331.50" x2="299.80" y2="331.50" stroke="#333" stroke-width="1.0"/>
<line x1="295.40" y1="379.19" x2="299.80" y2="379.19" stroke="#333" stroke-width="1.0"/>
<line x1="295.40" y1="340.05" x2="299.80" y2="340.05" stroke="#555" stroke-width="1.0"/>
<line x1="295.40" y1="372.20" x2="299.80" y2="372.20" stroke="#7777bb" stroke-width="1.0"/>
<polyline points="164.20,411.50 208.67,391.93 253.13,368.32 297.60,360.24" fill="none" stroke="#4a55c8" stroke-width="1.2"/>
<polyline points="164.20,411.50 208.67,388.20 253.13,361.17 297.60,346.73" fill="none" stroke="#111" stroke-width="1.1"/>
<polyline points="164.20,411.50 208.67,388.51 253.13,366.92 297.60,358.69" fill="none" stroke="#000" stroke-width="1.6"/>
<circle cx="164.20" cy="411.50" r="1.7" fill="#4a4cc8" stroke="#22227a" stroke-width="0.8"/>
<circle cx="208.67" cy="391.93" r="1.7" fill="#4a4cc8" stroke="#22227a" stroke-width="0.8"/>
<circle cx="253.13" cy="368.32" r="1.7" fill="#4a4cc8" stroke="#22227a" stroke-width="0.8"/>
<circle cx="297.60" cy="360.24" r="1.7" fill="#4a4cc8" stroke="#22227a" stroke-width="0.8"/>
<circle cx="208.67" cy="388.20" r="2.1" fill="#fff" stroke="#111" stroke-width="0.9"/>
<circle cx="253.13" cy="361.17" r="2.1" fill="#fff" stroke="#111" stroke-width="0.9"/>
<circle cx="297.60" cy="346.73" r="2.1" fill="#fff" stroke="#111" stroke-width="0.9"/>
<circle cx="164.20" cy="411.50" r="2.2" fill="#000" stroke="none" stroke-width="0.8"/>
<circle cx="208.67" cy="388.51" r="2.2" fill="#10103a" stroke="none" stroke-width="0.8"/>
<circle cx="253.13" cy="366.92" r="2.2" fill="#000" stroke="none" stroke-width="0.8"/>
<circle cx="297.60" cy="358.69" r="2.2" fill="#000" stroke="none" stroke-width="0.8"/>
<circle cx="164.20" cy="411.50" r="2.4" fill="#000" stroke="none" stroke-width="0.8"/>
<line x1="171.50" y1="319.60" x2="181.10" y2="319.60" stroke="#222" stroke-width="1.2"/>
<circle cx="176.30" cy="319.60" r="1.9" fill="#fff" stroke="#222" stroke-width="0.9"/>
<line x1="171.50" y1="329.30" x2="181.10" y2="329.30" stroke="#000" stroke-width="1.2"/>
<circle cx="176.30" cy="329.30" r="1.9" fill="#000" stroke="none" stroke-width="0.9"/>
<line x1="171.50" y1="340.40" x2="181.10" y2="340.40" stroke="#6a6ad8" stroke-width="1.2"/>
<circle cx="176.30" cy="340.40" r="2.0" fill="#6a6ad8" stroke="none" stroke-width="0.9"/>
<text x="184.80" y="322.70" font-size="7.3" text-anchor="start" fill="#1c1c1c" font-style="italic" >Mcl-1<tspan font-size="5.3" dy="-2.1">+/+</tspan></text>
<text x="184.80" y="332.40" font-size="7.3" text-anchor="start" fill="#1c1c1c" font-style="italic" >Mcl-1<tspan font-size="5.3" dy="-2.1">fl/fl</tspan></text>
<text x="184.80" y="343.10" font-size="7.3" text-anchor="start" fill="#1c1c1c" font-style="italic" >Mcl-1<tspan font-size="5.3" dy="-2.1">Pf4Δ/Pf4Δ</tspan></text>
<text x="324.80" y="304.40" font-size="17" text-anchor="start" fill="#000" font-weight="bold" >I</text>
<line x1="364.80" y1="325.90" x2="364.80" y2="408.70" stroke="#222" stroke-width="1.3"/>
<line x1="361.80" y1="408.10" x2="364.80" y2="408.10" stroke="#222" stroke-width="1.3"/>
<text x="361.00" y="411.10" font-size="9" text-anchor="end" fill="#1c1c1c" >0</text>
<line x1="361.80" y1="391.78" x2="364.80" y2="391.78" stroke="#222" stroke-width="1.3"/>
<text x="361.00" y="394.78" font-size="9" text-anchor="end" fill="#1c1c1c" >500</text>
<line x1="361.80" y1="375.46" x2="364.80" y2="375.46" stroke="#222" stroke-width="1.3"/>
<text x="361.00" y="378.46" font-size="9" text-anchor="end" fill="#1c1c1c" >1000</text>
<line x1="361.80" y1="359.14" x2="364.80" y2="359.14" stroke="#222" stroke-width="1.3"/>
<text x="361.00" y="362.14" font-size="9" text-anchor="end" fill="#1c1c1c" >1500</text>
<line x1="361.80" y1="342.82" x2="364.80" y2="342.82" stroke="#222" stroke-width="1.3"/>
<text x="361.00" y="345.82" font-size="9" text-anchor="end" fill="#1c1c1c" >2000</text>
<line x1="361.80" y1="326.50" x2="364.80" y2="326.50" stroke="#222" stroke-width="1.3"/>
<text x="361.00" y="329.50" font-size="9" text-anchor="end" fill="#1c1c1c" >2500</text>
<line x1="364.20" y1="408.10" x2="488.50" y2="408.10" stroke="#222" stroke-width="1.3"/>
<line x1="364.80" y1="408.10" x2="364.80" y2="411.10" stroke="#222" stroke-width="1.3"/>
<line x1="388.44" y1="408.10" x2="388.44" y2="411.10" stroke="#222" stroke-width="1.3"/>
<line x1="412.08" y1="408.10" x2="412.08" y2="411.10" stroke="#222" stroke-width="1.3"/>
<line x1="435.72" y1="408.10" x2="435.72" y2="411.10" stroke="#222" stroke-width="1.3"/>
<line x1="459.36" y1="408.10" x2="459.36" y2="411.10" stroke="#222" stroke-width="1.3"/>
<line x1="483.00" y1="408.10" x2="483.00" y2="411.10" stroke="#222" stroke-width="1.3"/>
<text x="364.80" y="419.60" font-size="9" text-anchor="middle" fill="#1c1c1c" >0</text>
<text x="388.44" y="419.60" font-size="9" text-anchor="middle" fill="#1c1c1c" >24</text>
<text x="412.08" y="419.60" font-size="9" text-anchor="middle" fill="#1c1c1c" >48</text>
<text x="435.72" y="419.60" font-size="9" text-anchor="middle" fill="#1c1c1c" >72</text>
<text x="459.36" y="419.60" font-size="9" text-anchor="middle" fill="#1c1c1c" >96</text>
<text x="483.00" y="419.60" font-size="9" text-anchor="middle" fill="#1c1c1c" >120</text>
<text x="426.90" y="431.00" font-size="9.2" text-anchor="middle" fill="#1c1c1c" >Time (h)</text>
<text transform="translate(331.50,365.30) rotate(-90)" x="0" y="0" font-size="8.95" text-anchor="middle" fill="#1c1c1c">Platelets (x 10<tspan font-size="6" dy="-3">3</tspan><tspan dy="3">/µl)</tspan></text>
<line x1="364.80" y1="357.18" x2="364.80" y2="373.83" stroke="#4455aa" stroke-width="1.0"/>
<line x1="362.60" y1="357.18" x2="367.00" y2="357.18" stroke="#4455aa" stroke-width="1.0"/>
<line x1="362.60" y1="373.83" x2="367.00" y2="373.83" stroke="#4455aa" stroke-width="1.0"/>
<line x1="483.00" y1="337.27" x2="483.00" y2="357.51" stroke="#333" stroke-width="1.0"/>
<line x1="480.80" y1="337.27" x2="485.20" y2="337.27" stroke="#333" stroke-width="1.0"/>
<line x1="480.80" y1="357.51" x2="485.20" y2="357.51" stroke="#333" stroke-width="1.0"/>
<line x1="480.80" y1="341.19" x2="485.20" y2="341.19" stroke="#6666aa" stroke-width="1.0"/>
<line x1="480.80" y1="354.24" x2="485.20" y2="354.24" stroke="#6666aa" stroke-width="1.0"/>
<polyline points="364.80,370.56 388.44,406.47 483.00,347.72" fill="none" stroke="#111" stroke-width="1.4"/>
<polyline points="364.80,366.65 388.44,406.47 483.00,347.72" fill="none" stroke="#3a44b8" stroke-width="1.4"/>
<circle cx="364.80" cy="370.56" r="2.1" fill="#000" stroke="none" stroke-width="0.8"/>
<circle cx="388.44" cy="406.47" r="2.1" fill="#000" stroke="none" stroke-width="0.8"/>
<circle cx="364.80" cy="366.65" r="2.0" fill="#4a55c8" stroke="#22227a" stroke-width="0.8"/>
<circle cx="388.44" cy="406.47" r="2.0" fill="#4a55c8" stroke="#22227a" stroke-width="0.8"/>
<circle cx="483.00" cy="347.72" r="2.0" fill="#4a55c8" stroke="#22227a" stroke-width="0.8"/>
<line x1="371.90" y1="328.10" x2="382.70" y2="328.10" stroke="#111" stroke-width="1.2"/>
<circle cx="377.30" cy="328.10" r="1.8" fill="#000" stroke="none" stroke-width="0.8"/>
<line x1="371.90" y1="338.10" x2="382.70" y2="338.10" stroke="#3a44b8" stroke-width="1.2"/>
<circle cx="377.30" cy="338.10" r="1.8" fill="#6a6ad8" stroke="#22227a" stroke-width="0.7"/>
<text x="386.90" y="331.00" font-size="8.4" text-anchor="start" fill="#1c1c1c" font-style="italic" >Mcl-1<tspan font-size="5.5" dy="-2.3">fl/fl</tspan></text>
<text x="386.90" y="341.10" font-size="8.4" text-anchor="start" fill="#1c1c1c" font-style="italic" >Mcl-1<tspan font-size="5.5" dy="-2.3">Pf4Δ/Pf4Δ</tspan></text>
</svg></body></html>
